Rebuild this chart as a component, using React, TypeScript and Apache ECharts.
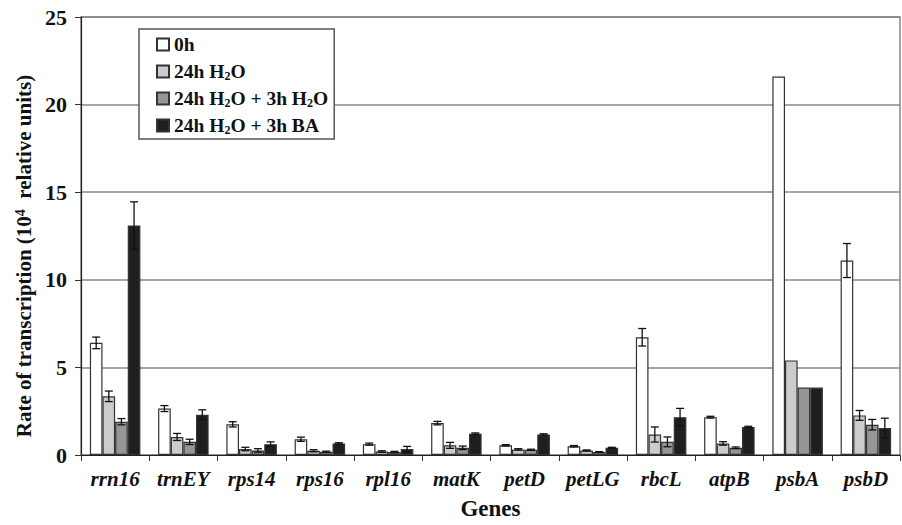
import React, { useEffect, useRef } from "react";
import * as echarts from "echarts";

const categories = ["rrn16", "trnEY", "rps14", "rps16", "rpl16", "matK", "petD", "petLG", "rbcL", "atpB", "psbA", "psbD"];
const seriesNames = ["0h", "24h H2O", "24h H2O + 3h H2O", "24h H2O + 3h BA"];
const v0h = [6.4, 2.65, 1.75, 0.9, 0.62, 1.82, 0.55, 0.5, 6.72, 2.16, 21.6, 11.1];
const e0h = [0.33, 0.17, 0.15, 0.12, 0.06, 0.1, 0.04, 0.04, 0.5, 0.05, 0, 0.97];
const v24 = [3.35, 1.03, 0.34, 0.24, 0.2, 0.55, 0.32, 0.26, 1.17, 0.66, 5.4, 2.26];
const e24 = [0.3, 0.2, 0.1, 0.06, 0.04, 0.17, 0.04, 0.03, 0.43, 0.1, 0, 0.28];
const v3h = [1.9, 0.75, 0.26, 0.18, 0.17, 0.41, 0.3, 0.17, 0.75, 0.41, 3.85, 1.73];
const e3h = [0.18, 0.15, 0.1, 0.04, 0.04, 0.1, 0.03, 0.02, 0.28, 0.05, 0, 0.3];
const vBA = [13.1, 2.3, 0.62, 0.66, 0.34, 1.22, 1.17, 0.41, 2.16, 1.6, 3.85, 1.54];
const eBA = [1.35, 0.28, 0.13, 0.04, 0.15, 0.04, 0.04, 0.03, 0.5, 0.04, 0, 0.56];
const colors = ["#ffffff", "#cccccc", "#969696", "#1f1f1f"];

const values = [v0h, v24, v3h, vBA];
const errors = [e0h, e24, e3h, eBA];
const GAP = 0.26;
const FONT = "'Liberation Serif', 'Times New Roman', serif";

export default function App() {
  const ref = useRef<HTMLDivElement>(null);
  useEffect(() => {
    if (!ref.current) return;
    const chart = echarts.init(ref.current, null, { renderer: "svg" });
    const errData: number[][] = [];
    values.forEach((vals, s) => {
      vals.forEach((v, i) => {
        if (errors[s][i] > 0) errData.push([i, v, errors[s][i], s]);
      });
    });
    const barSeries = seriesNames.map((name, s) => ({
      type: "bar",
      name,
      data: values[s],
      barGap: "0%",
      barCategoryGap: GAP * 100 + "%",
      itemStyle: { color: colors[s], borderColor: "#333", borderWidth: 1.2 },
      z: 2,
    }));
    const errSeries = {
      type: "custom",
      name: "err",
      data: errData,
      z: 5,
      renderItem: (params: any, api: any) => {
        const x = api.value(0);
        const v = api.value(1);
        const e = api.value(2);
        const s = api.value(3);
        const p = api.coord([x, v]);
        const band = api.size([1, 0])[0];
        const bw = (band * (1 - GAP)) / 4;
        const cx = p[0] - 2 * bw + (s + 0.5) * bw;
        const top = api.coord([x, v + e])[1];
        const bot = api.coord([x, v - e])[1];
        const cap = 4;
        const st = { stroke: "#111", lineWidth: 1.3 };
        return {
          type: "group",
          children: [
            { type: "line", shape: { x1: cx, y1: top, x2: cx, y2: bot }, style: st },
            { type: "line", shape: { x1: cx - cap, y1: top, x2: cx + cap, y2: top }, style: st },
            { type: "line", shape: { x1: cx - cap, y1: bot, x2: cx + cap, y2: bot }, style: st },
          ],
        };
      },
    };
    const sub = { fontSize: 12, fontWeight: "bold", fontFamily: FONT, color: "#111", verticalAlign: "bottom", padding: [6, 0, 0, 0] };
    chart.setOption({
      animation: false,
      backgroundColor: "#ffffff",
      grid: { left: 81, right: 2, top: 17, bottom: 65, show: true, borderColor: "#888", borderWidth: 1.5 },
      legend: {
        data: seriesNames,
        orient: "vertical",
        left: 139,
        top: 29,
        padding: [5, 6, 3, 17],
        itemWidth: 12,
        itemHeight: 12,
        itemGap: 6,
        backgroundColor: "#ffffff",
        borderColor: "#555",
        borderWidth: 1.5,
        borderRadius: 0,
        icon: "rect",
        formatter: (name: string) => name.replace(/H2O/g, "H{sub|2}O"),
        textStyle: {
          fontFamily: FONT,
          fontWeight: "bold",
          fontSize: 19.5,
          color: "#111",
          lineHeight: 21,
          rich: { sub },
        },
      },
      xAxis: {
        type: "category",
        data: categories,
        name: "Genes",
        nameLocation: "middle",
        nameGap: 42,
        nameTextStyle: { fontFamily: FONT, fontWeight: "bold", fontSize: 23, color: "#111" },
        axisLine: { lineStyle: { color: "#222", width: 1.2 } },
        axisTick: { show: true, interval: 0, length: 6, lineStyle: { color: "#333" } },
        axisLabel: { interval: 0, hideOverlap: false, fontFamily: FONT, fontWeight: "bold", fontStyle: "italic", fontSize: 21, color: "#111", margin: 13 },
      },
      yAxis: {
        type: "value",
        min: 0,
        max: 25,
        interval: 5,
        name: "{a|Rate of transcription (10}{sup|4}{a|  relative units)}",
        nameLocation: "middle",
        nameGap: 44,
        nameRotate: 90,
        nameTextStyle: {
          padding: [0, 40, 0, 0],
          rich: {
            a: { fontFamily: FONT, fontWeight: "bold", fontSize: 21, color: "#111" },
            sup: { fontFamily: FONT, fontWeight: "bold", fontSize: 14, color: "#111", verticalAlign: "top" },
          },
        },
        axisLine: { show: true, lineStyle: { color: "#222", width: 1.2 } },
        axisTick: { show: true, length: 6, lineStyle: { color: "#333" } },
        axisLabel: { fontFamily: FONT, fontWeight: "bold", fontSize: 22, color: "#111", margin: 14 },
        splitLine: { show: true, lineStyle: { color: "#888", width: 1.5 } },
      },
      series: [...barSeries, errSeries],
    });
    return () => chart.dispose();
  }, []);
  return (
    <div
      ref={ref}
      style={{ position: "fixed", left: 0, top: 0, width: 902, height: 525, background: "#fff" }}
    />
  );
}
